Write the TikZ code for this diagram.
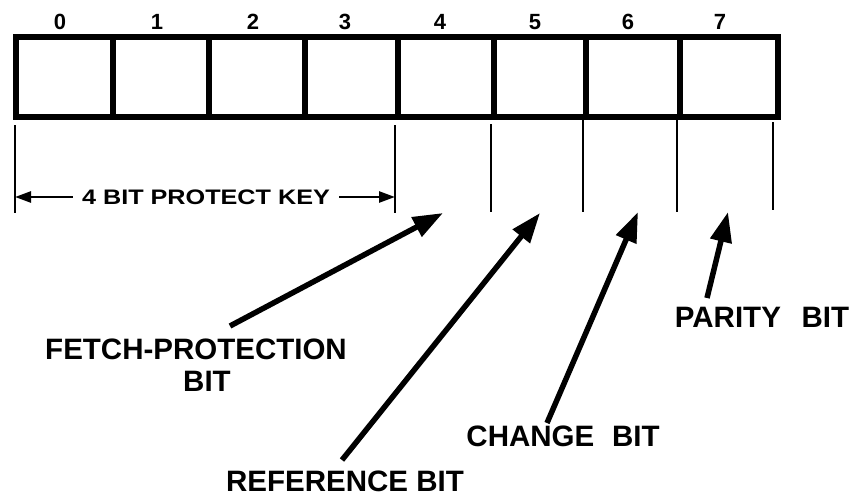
\documentclass[tikz,border=0pt]{standalone}
\usepackage{graphicx}
\usepackage{fontspec}
\setmainfont{Liberation Sans}
\usetikzlibrary{arrows.meta,calc}
\newcommand{\bitfont}{\fontsize{22}{24}\selectfont\bfseries}
\begin{document}
\begin{tikzpicture}[x=1pt,y=-1pt,
  cell/.style={draw,line width=6pt,minimum height=80pt,inner sep=0pt,anchor=west},
  bitnum/.style={inner sep=0pt},
  biglabel/.style={font=\fontsize{29.5}{33}\selectfont\bfseries,inner sep=0pt,align=center},
  tick/.style={line width=2.6pt},
  dimarrow/.style={line width=2.6pt,-{Triangle[length=16pt,width=11pt]}},
  bigarrow/.style={line width=5.5pt,-{Triangle[length=30pt,width=21pt]}}
]
\useasboundingbox (0,0) rectangle (850,501);
% cells
\node[cell,minimum width=97pt] (c0) at (13,77) {};
\node[cell,minimum width=96pt] (c1) at (110,77) {};
\node[cell,minimum width=96pt] (c2) at (206,77) {};
\node[cell,minimum width=93pt] (c3) at (302,77) {};
\node[cell,minimum width=96pt] (c4) at (395,77) {};
\node[cell,minimum width=92pt] (c5) at (491,77) {};
\node[cell,minimum width=94pt] (c6) at (583,77) {};
\node[cell,minimum width=98pt] (c7) at (677,77) {};
% bit numbers
\node[bitnum] (n0) at (60,22) {\bitfont 0};
\node[bitnum] (n1) at (157,22) {\bitfont 1};
\node[bitnum] (n2) at (253,22) {\bitfont 2};
\node[bitnum] (n3) at (345,22) {\bitfont 3};
\node[bitnum] (n4) at (440,22) {\bitfont 4};
\node[bitnum] (n5) at (535,22) {\bitfont 5};
\node[bitnum] (n6) at (628,22) {\bitfont 6};
\node[bitnum] (n7) at (720,22) {\bitfont 7};
% ticks
\coordinate (t0a) at (15,125);  \coordinate (t0b) at (15,213);
\coordinate (t4a) at (395,125); \coordinate (t4b) at (395,213);
\coordinate (t5a) at (491,124); \coordinate (t5b) at (491,212);
\coordinate (t6a) at (583,120); \coordinate (t6b) at (583,212);
\coordinate (t7a) at (677,120); \coordinate (t7b) at (677,212);
\coordinate (t8a) at (773,122); \coordinate (t8b) at (773,210);
\foreach \t in {0,4,5,6,7,8} {\draw[tick] (t\t a) -- (t\t b);}
% dimension
\node[inner xsep=9pt,inner ysep=2pt] (key) at (206,197)
  {\scalebox{1.2}[1]{\fontsize{21}{24}\selectfont\bfseries 4 BIT PROTECT KEY}};
\coordinate (kl) at (15,197);
\coordinate (kr) at (395,197);
\draw[dimarrow] (key.west) -- (kl);
\draw[dimarrow] (key.east) -- (kr);
% labels
\node[biglabel] (fp) at (196,365) {FETCH-PROTECTION\\[-1pt]\hspace*{22pt}BIT};
\node[biglabel] (ref) at (345,481) {REFERENCE BIT};
\node[biglabel] (chg) at (563,436) {CHANGE\hspace{0.6em}BIT};
\node[biglabel] (par) at (762,317) {PARITY\hspace{0.7em}BIT};
% arrows
\coordinate (fpt) at (230,326);  \coordinate (fph) at (443,213);
\coordinate (rft) at (342,460);  \coordinate (rfh) at (540,213);
\coordinate (cht) at (547,423);  \coordinate (chh) at (638,212);
\coordinate (pat) at (707,298);  \coordinate (pah) at (728,212);
\draw[bigarrow] (fpt) -- (fph);
\draw[bigarrow] (rft) -- (rfh);
\draw[bigarrow] (cht) -- (chh);
\draw[bigarrow] (pat) -- (pah);
\end{tikzpicture}
\end{document}
